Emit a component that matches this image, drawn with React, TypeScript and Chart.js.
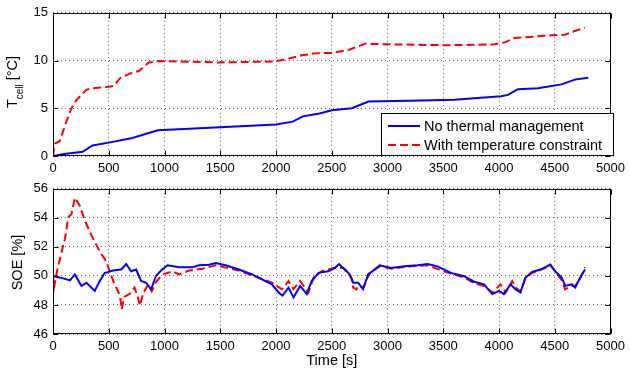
import React, { useEffect, useRef } from "react";
import { Chart, registerables } from "chart.js";

Chart.register(...registerables);

// ---------- data ----------
const X_TICKS = [0, 500, 1000, 1500, 2000, 2500, 3000, 3500, 4000, 4500, 5000];
const TOP_Y_TICKS = [0, 5, 10, 15];
const BOTTOM_Y_TICKS = [46, 48, 50, 52, 54, 56];

const LABEL_NO_TM = "No thermal management";
const LABEL_TEMP = "With temperature constraint";

// Cell temperature, no thermal management
const tempNoTmTime = [0, 100, 265, 355, 500, 700, 800, 940, 1500, 2000, 2150, 2240, 2390, 2500, 2680, 2830, 3190, 3600, 4020, 4080, 4170, 4350, 4560, 4680, 4800];
const tempNoTmValue = [0, 0.2, 0.44, 1.1, 1.4, 1.85, 2.2, 2.7, 3.0, 3.3, 3.6, 4.15, 4.45, 4.8, 5.0, 5.7, 5.8, 5.9, 6.25, 6.4, 7.0, 7.1, 7.5, 8.0, 8.2];

// Cell temperature, with temperature constraint
const tempConTime = [0, 15, 60, 120, 165, 210, 300, 360, 500, 545, 605, 695, 770, 860, 950, 1480, 1990, 2110, 2230, 2350, 2500, 2650, 2800, 3010, 3540, 3960, 4050, 4140, 4470, 4590, 4680, 4770];
const tempConValue = [0, 1.3, 1.55, 3.6, 5.0, 5.85, 6.95, 7.1, 7.25, 7.35, 8.2, 8.65, 8.9, 9.8, 9.95, 9.8, 9.9, 10.2, 10.55, 10.75, 10.8, 11.1, 11.75, 11.7, 11.6, 11.7, 11.9, 12.35, 12.65, 12.7, 13.1, 13.45];

// SOE, no thermal management
const soeNoTmTime = [0, 92, 152, 196, 255, 300, 374, 419, 463, 537, 612, 656, 701, 746, 790, 835, 880, 924, 969, 1028, 1132, 1250, 1310, 1399, 1459, 1548, 1667, 1785, 1874, 1963, 2023, 2059, 2112, 2157, 2216, 2276, 2320, 2380, 2469, 2528, 2564, 2618, 2662, 2692, 2736, 2781, 2826, 2885, 2930, 3034, 3152, 3271, 3360, 3449, 3568, 3687, 3776, 3865, 3940, 3999, 4043, 4103, 4147, 4192, 4236, 4296, 4370, 4430, 4460, 4504, 4563, 4593, 4653, 4682, 4727, 4771];
const soeNoTmValue = [50.0, 49.83, 49.69, 50.1, 49.3, 49.53, 48.97, 49.65, 50.2, 50.37, 50.44, 50.82, 50.32, 50.44, 49.65, 49.53, 49.08, 50.0, 50.37, 50.73, 50.59, 50.59, 50.73, 50.77, 50.89, 50.73, 50.44, 50.1, 49.76, 49.42, 48.86, 48.64, 49.2, 48.52, 49.31, 48.75, 49.65, 50.21, 50.32, 50.55, 50.82, 50.44, 50.1, 49.53, 49.53, 49.08, 50.1, 50.44, 50.73, 50.55, 50.66, 50.73, 50.82, 50.66, 50.21, 49.98, 49.6, 49.42, 48.75, 48.97, 48.75, 49.42, 49.08, 48.86, 49.87, 50.27, 50.44, 50.66, 50.78, 50.32, 49.87, 49.31, 49.42, 49.2, 49.87, 50.44];

// SOE, with temperature constraint
const soeConTime = [0, 9, 39, 78, 108, 137, 166, 196, 241, 285, 345, 419, 478, 508, 552, 582, 603, 615, 642, 686, 731, 761, 780, 810, 855, 885, 930, 984, 1073, 1132, 1221, 1340, 1459, 1667, 1845, 1963, 2053, 2112, 2157, 2216, 2291, 2336, 2410, 2513, 2603, 2677, 2692, 2722, 2736, 2781, 2841, 2930, 3034, 3212, 3360, 3523, 3687, 3776, 3865, 3940, 4014, 4060, 4118, 4150, 4192, 4236, 4296, 4370, 4430, 4460, 4504, 4563, 4593, 4653, 4682, 4727, 4771];
const soeConValue = [50.06, 49.2, 50.44, 51.68, 52.58, 54.04, 54.26, 55.39, 54.83, 53.82, 52.8, 51.68, 51.0, 50.32, 49.42, 48.97, 48.52, 47.7, 48.57, 48.75, 49.2, 48.52, 47.95, 48.85, 49.4, 48.95, 49.65, 50.1, 50.32, 50.1, 50.37, 50.5, 50.73, 50.37, 49.87, 49.53, 49.08, 49.65, 49.08, 49.65, 48.86, 49.87, 50.32, 50.55, 50.55, 49.87, 49.2, 49.08, 49.31, 49.2, 50.21, 50.66, 50.5, 50.66, 50.73, 50.27, 49.9, 49.5, 49.3, 48.85, 49.42, 48.85, 49.65, 49.2, 48.95, 49.8, 50.2, 50.4, 50.6, 50.75, 50.3, 49.7, 49.08, 49.3, 49.3, 49.8, 50.6];

// ---------- styling ----------
const FONT = "'Liberation Sans', Arial, Helvetica, sans-serif";
const BLUE = "#0000ff";
const RED = "#ff0000";
const DASH = [8, 4];

const zip = (t: number[], v: number[]) => t.map((x, i) => ({ x, y: v[i] }));

const framePlugin = {
  id: "matlabFrame",
  afterDraw(chart: any, _args: any, opts: any) {
    const { ctx, chartArea: a, scales } = chart;
    ctx.save();
    ctx.strokeStyle = "#000";
    ctx.lineWidth = 1;
    const L = Math.round(a.left) + 0.5;
    const R = Math.round(a.right) - 0.5;
    const T = Math.round(a.top) + 0.5;
    const B = Math.round(a.bottom) - 0.5;
    ctx.strokeRect(L, T, R - L, B - T);
    const tl = 5;
    ctx.beginPath();
    scales.x.ticks.forEach((t: any) => {
      const px = Math.round(scales.x.getPixelForValue(t.value)) + 0.5;
      ctx.moveTo(px, B);
      ctx.lineTo(px, B - tl);
      ctx.moveTo(px, T);
      ctx.lineTo(px, T + tl);
    });
    scales.y.ticks.forEach((t: any) => {
      const py = Math.round(scales.y.getPixelForValue(t.value)) + 0.5;
      ctx.moveTo(L, py);
      ctx.lineTo(L + tl, py);
      ctx.moveTo(R, py);
      ctx.lineTo(R - tl, py);
    });
    ctx.stroke();

    // y-axis title (with optional subscript)
    if (opts.yTitle) {
      const yt = opts.yTitle;
      ctx.fillStyle = "#000";
      const big = `14.5px ${FONT}`;
      const small = `10px ${FONT}`;
      const parts = yt.parts as { text: string; sub?: boolean }[];
      let total = 0;
      const widths = parts.map((p) => {
        ctx.font = p.sub ? small : big;
        const w = ctx.measureText(p.text).width;
        total += w;
        return w;
      });
      ctx.translate(yt.x, yt.y);
      ctx.rotate(-Math.PI / 2);
      ctx.textBaseline = "alphabetic";
      ctx.textAlign = "left";
      let x = -total / 2;
      parts.forEach((p, i) => {
        ctx.font = p.sub ? small : big;
        ctx.fillText(p.text, x, p.sub ? 6 : 0);
        x += widths[i];
      });
      ctx.setTransform(1, 0, 0, 1, 0, 0);
    }

    // x-axis title
    if (opts.xTitle) {
      ctx.fillStyle = "#000";
      ctx.font = `14.5px ${FONT}`;
      ctx.textAlign = "center";
      ctx.textBaseline = "alphabetic";
      ctx.fillText(opts.xTitle, (a.left + a.right) / 2, opts.xTitleY);
    }

    // legend
    if (opts.legend) {
      const lg = opts.legend;
      ctx.fillStyle = "#fff";
      ctx.fillRect(lg.x, lg.y, lg.w, lg.h);
      ctx.strokeStyle = "#000";
      ctx.lineWidth = 1;
      ctx.strokeRect(lg.x + 0.5, lg.y + 0.5, lg.w - 1, lg.h - 1);
      ctx.font = `14.5px ${FONT}`;
      ctx.textAlign = "left";
      ctx.textBaseline = "middle";
      chart.data.datasets.forEach((ds: any, i: number) => {
        const yy = lg.y + 13 + i * 19;
        ctx.strokeStyle = ds.borderColor;
        ctx.lineWidth = 2;
        ctx.setLineDash(ds.borderDash || []);
        ctx.beginPath();
        ctx.moveTo(lg.x + 7, yy);
        ctx.lineTo(lg.x + 39, yy);
        ctx.stroke();
        ctx.setLineDash([]);
        ctx.fillStyle = "#000";
        ctx.fillText(ds.label, lg.x + 43, yy + 1);
      });
    }
    ctx.restore();
  },
};

function makeOptions(yTicks: number[], xHeight: number, padTop: number, frameOpts: any) {
  return {
    animation: false,
    responsive: false,
    devicePixelRatio: 1,
    layout: { padding: { top: padTop, right: 16, left: 0, bottom: 0 } },
    plugins: {
      legend: { display: false },
      tooltip: { enabled: false },
      matlabFrame: frameOpts,
    },
    elements: { point: { radius: 0 }, line: { tension: 0 } },
    scales: {
      x: {
        type: "linear",
        min: X_TICKS[0],
        max: X_TICKS[X_TICKS.length - 1],
        afterBuildTicks: (s: any) => {
          s.ticks = X_TICKS.map((v) => ({ value: v }));
        },
        afterFit: (s: any) => {
          s.height = xHeight;
        },
        ticks: {
          font: { family: FONT, size: 13 },
          color: "#000",
          padding: 5,
          maxRotation: 0,
          autoSkip: false,
          callback: (v: any) => String(v),
        },
        grid: { color: "rgba(0,0,0,0.6)", lineWidth: 1, drawTicks: false },
        border: { display: false, dash: [1, 3] },
      },
      y: {
        type: "linear",
        min: yTicks[0],
        max: yTicks[yTicks.length - 1],
        afterBuildTicks: (s: any) => {
          s.ticks = yTicks.map((v) => ({ value: v }));
        },
        afterFit: (s: any) => {
          s.width = 53;
        },
        ticks: {
          font: { family: FONT, size: 13 },
          color: "#000",
          padding: 5,
          autoSkip: false,
          callback: (v: any) => String(v),
        },
        grid: { color: "rgba(0,0,0,0.6)", lineWidth: 1, drawTicks: false },
        border: { display: false, dash: [1, 3] },
      },
    },
  };
}

export default function App() {
  const topRef = useRef<HTMLCanvasElement>(null);
  const botRef = useRef<HTMLCanvasElement>(null);

  useEffect(() => {
    const top = new Chart(topRef.current as HTMLCanvasElement, {
      type: "line",
      data: {
        datasets: [
          { label: LABEL_NO_TM, data: zip(tempNoTmTime, tempNoTmValue), borderColor: BLUE, borderWidth: 2, order: 1 },
          { label: LABEL_TEMP, data: zip(tempConTime, tempConValue), borderColor: RED, borderWidth: 2, borderDash: DASH, order: 0 },
        ],
      },
      options: makeOptions(TOP_Y_TICKS, 20, 8, {
        yTitle: { x: 17, y: 82, parts: [{ text: "T" }, { text: "cell", sub: true }, { text: " [°C]" }] },
        legend: { x: 381, y: 113, w: 233, h: 43 },
      }) as any,
      plugins: [framePlugin as any],
    });
    const bot = new Chart(botRef.current as HTMLCanvasElement, {
      type: "line",
      data: {
        datasets: [
          { label: LABEL_NO_TM, data: zip(soeNoTmTime, soeNoTmValue), borderColor: BLUE, borderWidth: 2, order: 0 },
          { label: LABEL_TEMP, data: zip(soeConTime, soeConValue), borderColor: RED, borderWidth: 2, borderDash: DASH, order: 1 },
        ],
      },
      options: makeOptions(BOTTOM_Y_TICKS, 42, 10, {
        yTitle: { x: 22, y: 86.5, parts: [{ text: "SOE [%]" }] },
        xTitle: "Time [s]",
        xTitleY: 188.5,
      }) as any,
      plugins: [framePlugin as any],
    });
    return () => {
      top.destroy();
      bot.destroy();
    };
  }, []);

  return (
    <div style={{ position: "absolute", left: 0, top: 0, width: 630, height: 376, background: "#fff" }}>
      <canvas ref={topRef} width={630} height={176} style={{ display: "block", width: 630, height: 176 }} />
      <canvas ref={botRef} width={630} height={200} style={{ display: "block", width: 630, height: 200 }} />
    </div>
  );
}
